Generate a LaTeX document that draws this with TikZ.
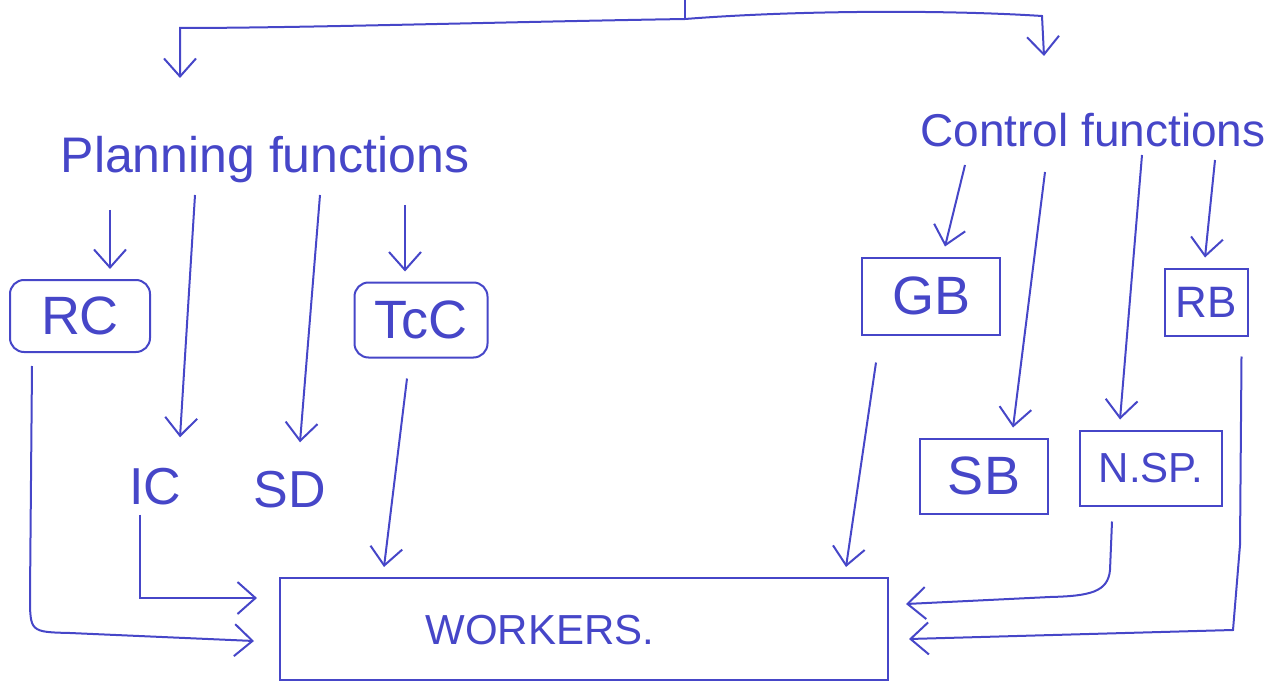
\documentclass[tikz,border=0pt]{standalone}
\usepackage{fontspec}
\setmainfont{Liberation Sans}
\usetikzlibrary{arrows.meta,calc}
\definecolor{ink}{RGB}{70,70,200}
\begin{document}
\begin{tikzpicture}[x=1pt,y=-1pt,line width=2pt,color=ink,
  arr/.style={-{Straight Barb[length=18pt,width=32pt,line width=2pt]}},
  box/.style={draw,inner sep=0pt,font=\fontsize{54}{58}\selectfont},
  rbox/.style={box,rounded corners=14pt},
  lab/.style={font=\fontsize{52}{56}\selectfont},
  head/.style={font=\fontsize{50}{56}\selectfont}]
\useasboundingbox (0,0) rectangle (1271,687);
% headings
\node[head] (plan) at (265,160) {Planning functions};
\node[head,font=\fontsize{46}{52}\selectfont] (ctrl) at (1093,130) {Control functions};
% planning side
\node[rbox,minimum width=140pt,minimum height=72pt] (RC) at (80,316) {RC};
\node[rbox,minimum width=133pt,minimum height=75pt] (TcC) at (421,320) {TcC};
\node[lab] (IC) at (155,487) {IC};
\node[lab] (SD) at (290,490) {SD};
% control side
\node[box,minimum width=138pt,minimum height=77pt] (GB) at (931,296) {GB};
\node[box,minimum width=128pt,minimum height=75pt] (SB) at (984,476) {SB};
\node[box,minimum width=142pt,minimum height=75pt,font=\fontsize{42}{46}\selectfont] (NSP) at (1151,468) {N.SP.};
\node[box,minimum width=83pt,minimum height=67pt,font=\fontsize{44}{48}\selectfont] (RB) at (1206,302) {RB};
% workers
\node[draw,inner sep=0pt,minimum width=608pt,minimum height=102pt] (W) at (584,629) {};
\node[font=\fontsize{42}{46}\selectfont] (wl) at (540,630) {WORKERS.};
% top splitter
\coordinate (top) at (685,0);
\coordinate (tm) at (685,19);
\coordinate (tl) at (180,28);
\coordinate (tr) at (1042,16);
\draw (top) -- (tm);
\draw[arr] (tm) .. controls (500,22) and (300,28) .. (tl) -- ($(tl)+(0,50)$);
\draw[arr] (tm) .. controls (800,10) and (950,10) .. (tr) -- ($(tr)+(2,40)$);
% planning connectors
\coordinate (p1) at (110,210);
\coordinate (p2) at (195,195);
\coordinate (p3) at (320,195);
\coordinate (p4) at (405,205);
\draw[arr] (p1) -- ($(RC.north)+(30,-10)$);
\draw[arr] (p2) -- ($(IC.north)+(25,-27)$);
\draw[arr] (p3) -- ($(SD.north)+(10,-25)$);
\draw[arr] (p4) -- ($(TcC.north)+(-16,-10)$);
% control connectors
\coordinate (c1) at (965,165);
\coordinate (c2) at (1045,172);
\coordinate (c3) at (1142,155);
\coordinate (c4) at (1215,160);
\draw[arr] (c1) -- ($(GB.north)+(14,-10)$);
\draw[arr] (c2) -- ($(SB.north)+(29,-10)$);
\draw[arr] (c3) -- ($(NSP.north)+(-31,-10)$);
\draw[arr] (c4) -- ($(RB.north)+(-1,-10)$);
% into workers
\draw[arr] ($(RC.south west)+(23,13)$) -- (30,595) .. controls (30,632) .. (70,633) -- ($(W.west)+(-25,12)$);
\draw[arr] ($(IC.south)+(-15,5)$) |- ($(W.west)+(-22,-31)$);
\draw[arr] ($(TcC.south)+(-14,20)$) -- ($(W.north west)+(105,-10)$);
\draw[arr] ($(GB.south west)+(15,27)$) -- ($(W.north east)+(-43,-10)$);
\draw[arr] ($(NSP.south)+(-39,15)$) -- (1110,570) .. controls (1108,592) and (1090,596) .. (1050,597) -- ($(W.east)+(17,-25)$);
\draw[arr] ($(RB.south east)+(-7,20)$) -- (1240,545) -- (1233,630) -- ($(W.east)+(20,10)$);
\end{tikzpicture}
\end{document}
